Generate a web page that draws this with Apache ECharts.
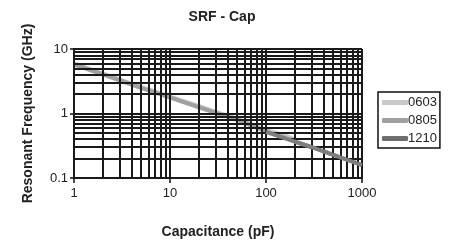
<!DOCTYPE html>
<html>
<head>
<meta charset="utf-8">
<script src="https://cdn.jsdelivr.net/npm/echarts@6/dist/echarts.min.js"></script>
<style>
  html, body { margin: 0; padding: 0; background: #fff; }
  #chart { width: 449px; height: 244px; }
</style>
</head>
<body>
<div id="chart"></div>
<script>
// capacitance (pF) and resonant frequency (GHz)
const cap0603 = [1, 2, 3, 5, 10, 20, 30, 50, 100, 150, 200]
const srf0603 = [5.85, 4.1, 3.3, 2.55, 1.8, 1.28, 1.04, 0.82, 0.54, 0.46, 0.39]
const cap0805 = [1, 2, 3, 5, 10, 20, 30, 50, 100, 200, 300, 500, 1000]
const srf0805 = [5.8, 4.05, 3.28, 2.5, 1.78, 1.25, 1.02, 0.8, 0.53, 0.37, 0.3, 0.23, 0.16]
const cap1210 = [100, 200, 300, 500, 1000]
const srf1210 = [0.52, 0.365, 0.3, 0.228, 0.158]

const seriesNames = ['0603', '0805', '1210']

// 1..9 in every decade, for the dense grid
const xGrid = []
for (let d = 1; d < 1000; d *= 10) for (let k = 1; k <= 9; k++) xGrid.push(k * d)
xGrid.push(1000)
const yGrid = []
for (let d = 0.1; d < 9; d *= 10) for (let k = 1; k <= 9; k++) yGrid.push(+(k * d).toFixed(2))
yGrid.push(10)

const zip = (xs, ys) => xs.map((x, i) => [x, ys[i]])

const chart = echarts.init(document.getElementById('chart'))

const gridLine = { color: '#1a1a1a', width: 2, type: 'solid' }
const font = 'Liberation Sans, Arial, sans-serif'

chart.setOption({
  animation: false,
  textStyle: { fontFamily: font },
  title: {
    text: 'SRF - Cap',
    left: 217,
    textAlign: 'center',
    top: 5,
    textStyle: { fontSize: 14, fontWeight: 'bold', color: '#222', fontFamily: font }
  },
  legend: {
    data: seriesNames,
    orient: 'vertical',
    left: 378,
    top: 92,
    width: 65,
    borderColor: '#111',
    borderWidth: 1.5,
    padding: [4, 3, 3, 4],
    itemGap: 5,
    itemWidth: 26,
    itemHeight: 5,
    icon: 'roundRect',
    textStyle: { fontSize: 13, color: '#222', padding: [0, 0, 0, -5], fontFamily: font }
  },
  grid: { left: 74, right: 87, top: 49, bottom: 59 },
  xAxis: {
    type: 'log',
    logBase: 10,
    min: 1,
    max: 1000,
    name: 'Capacitance (pF)',
    nameLocation: 'middle',
    nameGap: 47,
    nameTextStyle: { fontSize: 14, fontWeight: 'bold', color: '#222' },
    axisLine: { lineStyle: { color: '#111', width: 2 } },
    axisTick: { show: true, length: 5, lineStyle: { color: '#111', width: 1.5 } },
    axisLabel: { fontSize: 13, color: '#222', margin: 9, formatter: v => String(v) },
    splitLine: { show: false }
  },
  yAxis: {
    type: 'log',
    logBase: 10,
    min: 0.1,
    max: 10,
    name: 'Resonant Frequency (GHz)',
    nameLocation: 'middle',
    nameGap: 39,
    nameTextStyle: { fontSize: 14, fontWeight: 'bold', color: '#222' },
    axisLine: { lineStyle: { color: '#111', width: 2 } },
    axisTick: { show: true, length: 4, lineStyle: { color: '#111', width: 1.5 } },
    axisLabel: { fontSize: 13, color: '#222', margin: 6, formatter: v => String(+v.toPrecision(3)) },
    splitLine: { show: false }
  },
  series: [
    {
      name: 'grid',
      type: 'line',
      data: [],
      z: 1,
      silent: true,
      markLine: {
        silent: true,
        symbol: 'none',
        animation: false,
        label: { show: false },
        lineStyle: gridLine,
        data: [
          ...xGrid.map(v => ({ xAxis: v })),
          ...yGrid.map(v => ({ yAxis: v }))
        ]
      }
    },
    {
      name: '0603',
      type: 'line',
      data: zip(cap0603, srf0603),
      symbol: 'none',
      z: 3,
      lineStyle: { color: '#c8c8c8', width: 5 },
      itemStyle: { color: '#c8c8c8' }
    },
    {
      name: '0805',
      type: 'line',
      data: zip(cap0805, srf0805),
      symbol: 'none',
      z: 4,
      lineStyle: { color: '#a0a0a0', width: 4 },
      itemStyle: { color: '#a0a0a0' }
    },
    {
      name: '1210',
      type: 'line',
      data: zip(cap1210, srf1210),
      symbol: 'none',
      z: 5,
      lineStyle: { color: '#7e7e7e', width: 4 },
      itemStyle: { color: '#6e6e6e' }
    }
  ]
})
</script>
</body>
</html>
